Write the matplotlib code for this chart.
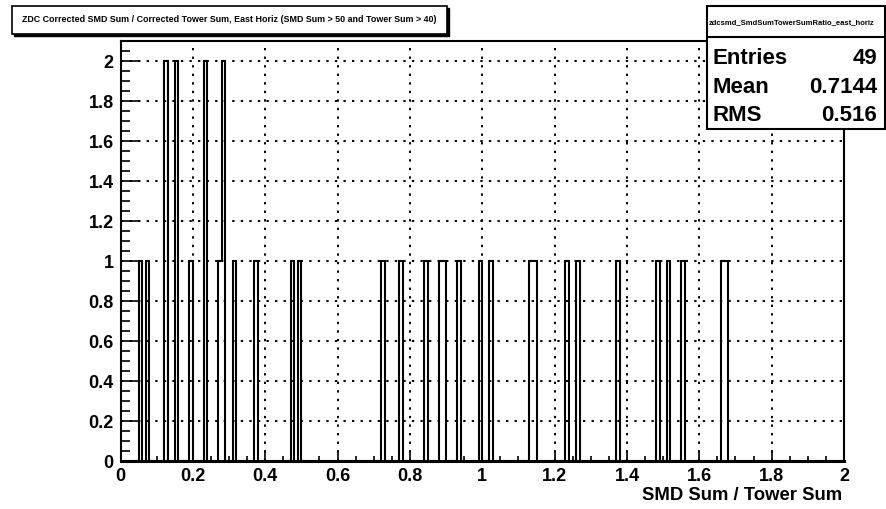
import numpy as np
import matplotlib.pyplot as plt
from matplotlib.patches import Rectangle
from matplotlib.ticker import MultipleLocator, FuncFormatter

plt.rcParams['font.family'] = ['Liberation Sans', 'DejaVu Sans']
plt.rcParams['font.weight'] = 'bold'

# lower edge of each non-empty bin (bin width 0.01) and its content
bin_low = [0.05, 0.07, 0.12, 0.15, 0.19, 0.23, 0.27, 0.28, 0.31, 0.37, 0.47, 0.49,
           0.72, 0.77, 0.84, 0.88, 0.89, 0.93, 0.99, 1.02, 1.13, 1.14,
           1.23, 1.26, 1.37, 1.48, 1.51, 1.55, 1.66, 1.67]
bin_cnt = [1, 1, 2, 2, 1, 2, 1, 2, 1, 1, 1, 1,
           1, 1, 1, 1, 1, 1, 1, 1, 1, 1,
           1, 1, 1, 1, 1, 1, 1, 1]

hist_name = "zdcsmd_SmdSumTowerSumRatio_east_horiz"
title = "ZDC Corrected SMD Sum / Corrected Tower Sum, East Horiz (SMD Sum > 50 and Tower Sum > 40)"
stat_names = ["Entries", "Mean", "RMS"]
stat_values = ["49", "0.7144", "0.516"]

W, H = 886, 510
edges = np.linspace(0, 2, 201)
counts = np.zeros(200)
counts[np.rint(np.array(bin_low) / 0.01).astype(int)] = bin_cnt

fig = plt.figure(figsize=(W / 100, H / 100), dpi=100)
ax = fig.add_axes([120.5 / W, 48 / H, (844 - 120.5) / W, (462 - 41.5) / H])

ax.stairs(counts, edges, color='black', linewidth=1.5, zorder=3)
ax.set_xlim(0, 2)
ax.set_ylim(0, 2.1025)

ax.xaxis.set_major_locator(MultipleLocator(0.2))
ax.xaxis.set_minor_locator(MultipleLocator(0.05))
ax.yaxis.set_major_locator(MultipleLocator(0.2))
ax.yaxis.set_minor_locator(MultipleLocator(0.05))
fmt = FuncFormatter(lambda v, p: "%g" % round(v, 2))
ax.xaxis.set_major_formatter(fmt)
ax.yaxis.set_major_formatter(fmt)

ax.tick_params(axis='x', which='major', direction='in', length=7.2, width=1.2, labelsize=13, pad=4)
ax.tick_params(axis='x', which='minor', direction='in', length=3.6, width=1.2)
ax.tick_params(axis='y', which='major', direction='in', length=13, width=1.2, labelsize=13, pad=5)
ax.tick_params(axis='y', which='minor', direction='in', length=6.5, width=1.2)

ax.grid(True, which='major', color='black', linestyle=(0, (1.2, 3.2)), linewidth=1.4)
ax.set_axisbelow(True)
for s in ax.spines.values():
    s.set_linewidth(1.5)
ax.spines['bottom'].set_linewidth(2.2)

fig.text(842 / W, 1 - 496 / H, "SMD Sum / Tower Sum", ha='right', va='center', fontsize=13.3)

# title box with shadow
fig.patches.append(Rectangle((14 / W, 1 - 37 / H), 435 / W, 28 / H, transform=fig.transFigure,
                             facecolor='black', edgecolor='black', zorder=5))
fig.patches.append(Rectangle((12 / W, 1 - 35 / H), 435 / W, 28 / H, transform=fig.transFigure,
                             facecolor='white', edgecolor='black', linewidth=1.2, zorder=6))
fig.text(229.5 / W, 1 - 19 / H, title, ha='center', va='center', fontsize=6.4, zorder=7)

# stats box
fig.patches.append(Rectangle((707 / W, 1 - 130 / H), 178 / W, 123 / H, transform=fig.transFigure,
                             facecolor='white', edgecolor='black', linewidth=1.5, zorder=5))
fig.add_artist(plt.Line2D([707 / W, 885 / W], [1 - 38 / H, 1 - 38 / H], color='black',
                          linewidth=1.5, transform=fig.transFigure, zorder=6))
fig.text(792 / W, 1 - 23 / H, hist_name, ha='center', va='center', fontsize=5.5, zorder=7)
for i, (n, v) in enumerate(zip(stat_names, stat_values)):
    yy = 1 - (59 + 28.5 * i) / H
    fig.text(712 / W, yy, n, ha='left', va='center', fontsize=16, zorder=7)
    fig.text(877 / W, yy, v, ha='right', va='center', fontsize=16, zorder=7)

plt.savefig("out.png", dpi=100)
